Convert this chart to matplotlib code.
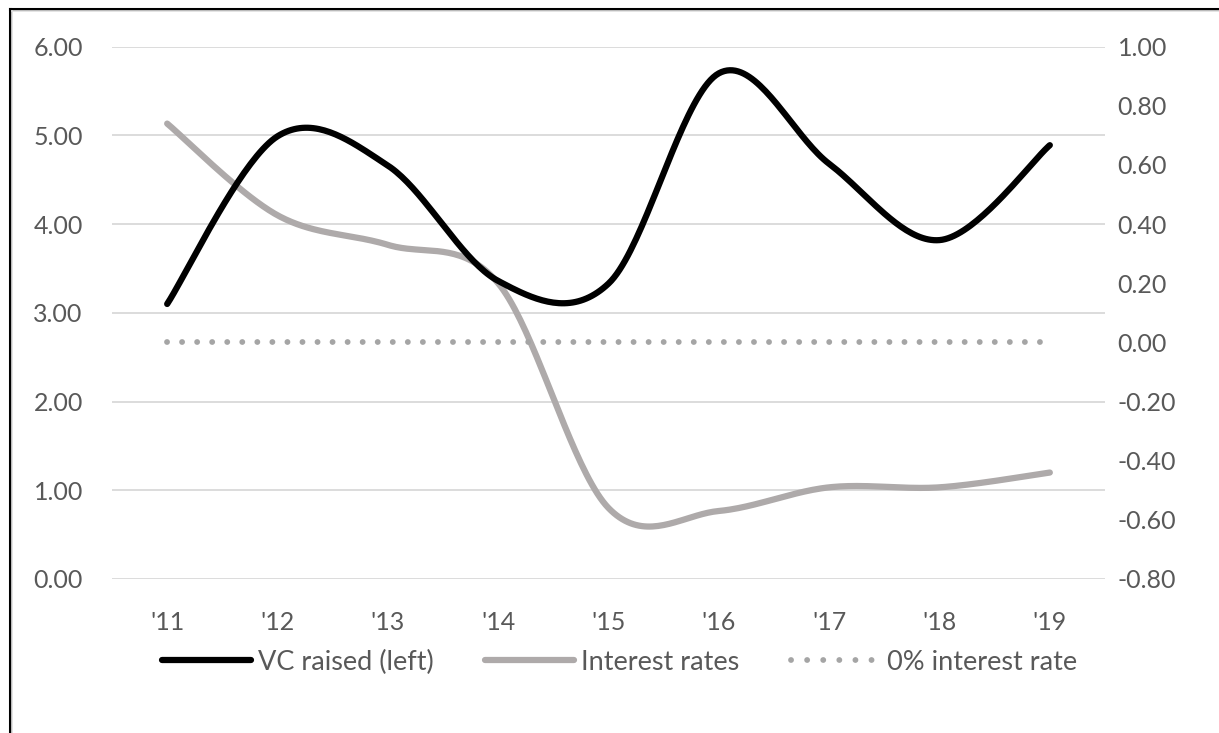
import matplotlib
matplotlib.use("Agg")
import matplotlib.pyplot as plt
from matplotlib.lines import Line2D
import numpy as np

# yearly series
years = ["'11", "'12", "'13", "'14", "'15", "'16", "'17", "'18", "'19"]
vc_raised = [3.10, 4.99, 4.66, 3.36, 3.33, 5.70, 4.68, 3.82, 4.89]
interest_rates = [0.74, 0.43, 0.33, 0.20, -0.56, -0.57, -0.49, -0.49, -0.44]
zero_rate = [0.0] * len(years)

plt.rcParams["font.family"] = ["Lato", "DejaVu Sans"]

TEXT = "#595959"
GRID = "#D9D9D9"
BLACK = "#000000"
GREY = "#AEAAAA"
DOTS = "#A5A5A5"
LW = 4.5


def smooth(xs, ys, steps=40):
    # Catmull-Rom curve through the points (same look as a smoothed office chart line)
    p = np.column_stack([xs, ys]).astype(float)
    p = np.vstack([p[0], p, p[-1]])
    out = []
    for i in range(1, len(p) - 2):
        p0, p1, p2, p3 = p[i - 1], p[i], p[i + 1], p[i + 2]
        t = np.linspace(0, 1, steps, endpoint=(i == len(p) - 3))[:, None]
        m1 = (p2 - p0) / 2
        m2 = (p3 - p1) / 2
        h00 = 2 * t**3 - 3 * t**2 + 1
        h10 = t**3 - 2 * t**2 + t
        h01 = -2 * t**3 + 3 * t**2
        h11 = t**3 - t**2
        out.append(h00 * p1 + h10 * m1 + h01 * p2 + h11 * m2)
    c = np.vstack(out)
    return c[:, 0], c[:, 1]


W, H = 1219, 733
fig = plt.figure(figsize=(W / 100, H / 100), dpi=100)
L, R, B, T = 112 / W, 1105 / W, 1 - 579 / H, 1 - 46.7 / H

# host axes carries the right-hand scale, the twin on top carries the left one
ax_r = fig.add_axes([L, B, R - L, T - B])
ax_l = ax_r.twinx()

x = np.arange(len(years))
left_lim = (0, 6)
right_lim = (-0.8, 1.0)

ax_l.set_ylim(*left_lim)
ax_r.set_ylim(*right_lim)
ax_r.set_xlim(-0.5, len(years) - 0.5)

left_ticks = np.arange(0, 6.01, 1.0)
right_ticks = np.round(np.arange(-0.8, 1.01, 0.2), 2) + 0.0

# gridlines follow the left scale, drawn underneath everything
for v in left_ticks:
    r = right_lim[0] + (v - left_lim[0]) * (right_lim[1] - right_lim[0]) / (left_lim[1] - left_lim[0])
    ax_r.axhline(r, color=GRID, lw=1.3, zorder=0)

sx, sy = smooth(x, interest_rates)
ax_r.plot(sx, sy, color=GREY, lw=LW, solid_capstyle="round", zorder=2)
ax_r.plot(x, zero_rate, color=DOTS, lw=4.2, linestyle=(0, (0.01, 2.57)),
          dash_capstyle="round", zorder=3)

sx, sy = smooth(x, vc_raised)
ax_l.plot(sx, sy, color=BLACK, lw=LW, solid_capstyle="round", zorder=3)

for a in (ax_r, ax_l):
    for s in a.spines.values():
        s.set_visible(False)

ax_r.yaxis.tick_right()
ax_l.yaxis.tick_left()
ax_r.set_yticks(right_ticks)
ax_r.set_yticklabels([f"{v + 0.0:.2f}" for v in right_ticks])
ax_l.set_yticks(left_ticks)
ax_l.set_yticklabels([f"{v:.2f}" for v in left_ticks])
ax_r.set_xticks(x)
ax_r.set_xticklabels(years)

ax_r.tick_params(axis="y", length=0, pad=9, labelsize=18, labelcolor=TEXT)
ax_l.tick_params(axis="y", length=0, pad=21, labelsize=18, labelcolor=TEXT)
ax_r.tick_params(axis="x", length=0, pad=23, labelsize=18, labelcolor=TEXT)

handles = [
    Line2D([], [], color=BLACK, lw=LW, solid_capstyle="round"),
    Line2D([], [], color=GREY, lw=LW, solid_capstyle="round"),
    Line2D([], [], color=DOTS, lw=4.2, linestyle=(0, (0.01, 2.75)), dash_capstyle="round"),
]
labels = ["VC raised (left)", "Interest rates", "0% interest rate"]
fig.legend(handles, labels, loc="center", bbox_to_anchor=(0.508, 1 - 662 / H), ncol=3,
           frameon=False, fontsize=19.5, labelcolor=TEXT, handlelength=3.3,
           handletextpad=0.25, columnspacing=1.9)

# outer frame on the left and top edges
fig.add_artist(Line2D([9.5 / W, 9.5 / W], [0, 1 - 8.5 / H], color="black", lw=2.2,
                      transform=fig.transFigure, solid_capstyle="projecting"))
fig.add_artist(Line2D([9.5 / W, 1], [1 - 8.5 / H, 1 - 8.5 / H], color="black", lw=2.2,
                      transform=fig.transFigure, solid_capstyle="projecting"))
fig.add_artist(Line2D([12 / W, 12 / W], [0, 1 - 11 / H], color="#E0E0E0", lw=1.2,
                      transform=fig.transFigure))
fig.add_artist(Line2D([12 / W, 1], [1 - 11 / H, 1 - 11 / H], color="#E0E0E0", lw=1.2,
                      transform=fig.transFigure))

fig.savefig("out.png", dpi=100)
